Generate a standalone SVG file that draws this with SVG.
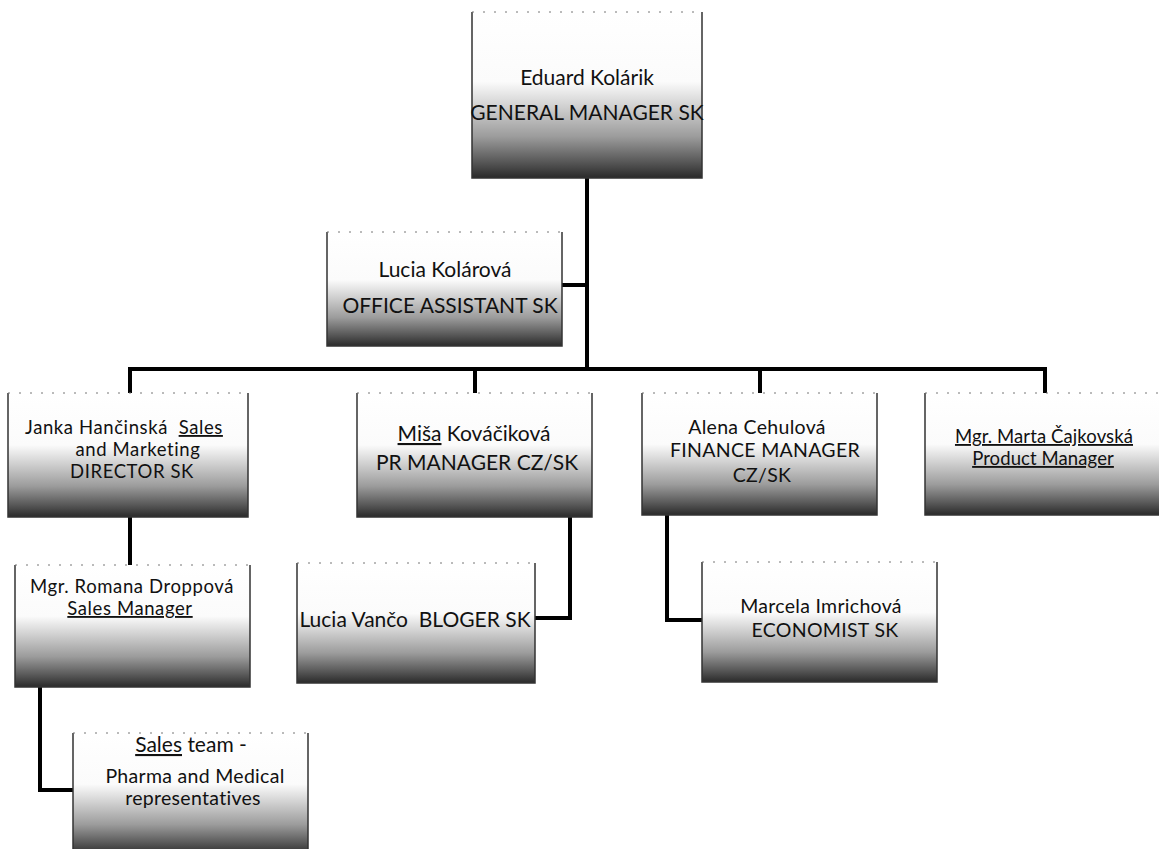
<svg xmlns="http://www.w3.org/2000/svg" width="1159" height="849" viewBox="0 0 1159 849">
<style>
.box{fill:url(#g);stroke:none}
.e{fill:none;stroke:#333;stroke-width:1.5}
.tp{fill:none;stroke:#777;stroke-width:1;stroke-dasharray:2 9}
.t{font-family:Lato,"Open Sans","DejaVu Sans",sans-serif;font-size:21px;fill:#111;text-anchor:middle}
.s{font-size:18.5px;letter-spacing:0.6px}
.m{font-size:18.5px;letter-spacing:0.1px}
.n{font-size:19.5px;letter-spacing:0.3px}
.u{text-decoration:underline}
.c{fill:none;stroke:#000;stroke-width:4;stroke-linejoin:miter;stroke-linecap:square}
</style>
<defs>
<linearGradient id="g" x1="0" y1="0" x2="0" y2="1">
<stop offset="0" stop-color="#ffffff"/>
<stop offset="0.42" stop-color="#fbfbfb"/>
<stop offset="0.55" stop-color="#d6d6d6"/>
<stop offset="0.75" stop-color="#9c9c9c"/>
<stop offset="0.9" stop-color="#595959"/>
<stop offset="1" stop-color="#2a2a2a"/>
</linearGradient>
</defs>
<rect width="1159" height="849" fill="#fff"/>
<g id="connectors">
<path class="c" d="M587 178 V369"/>
<path class="c" d="M562 285 H587"/>
<path class="c" d="M130 369 H1045"/>
<path class="c" d="M130 369 V393"/>
<path class="c" d="M475 369 V393"/>
<path class="c" d="M760 369 V393"/>
<path class="c" d="M1045 369 V393"/>
<path class="c" d="M130 517 V565"/>
<path class="c" d="M40 687 V790 H73"/>
<path class="c" d="M570 517 V618 H535"/>
<path class="c" d="M667 515 V620 H702"/>
</g>
<g id="eduard">
<rect class="box" x="472" y="12" width="230" height="166"/>
<path class="e" d="M472 12 V178 H702 V12"/><path class="tp" d="M472 12 H702"/>
<text class="t" x="587" y="85">Eduard Kolárik</text>
<text class="t" x="587" y="120">GENERAL MANAGER SK</text>
</g>
<g id="lucia-kolarova">
<rect class="box" x="327" y="232" width="235" height="114"/>
<path class="e" d="M327 232 V346 H562 V232"/><path class="tp" d="M327 232 H562"/>
<text class="t" x="445" y="277">Lucia Kolárová</text>
<text class="t" x="450" y="313">OFFICE ASSISTANT SK</text>
</g>
<g id="janka">
<rect class="box" x="8" y="393" width="240" height="124"/>
<path class="e" d="M8 393 V517 H248 V393"/><path class="tp" d="M8 393 H248"/>
<text class="t s" x="124" y="434">Janka Hančinská&#160; <tspan class="u">Sales</tspan></text>
<text class="t s" x="138" y="456">and Marketing</text>
<text class="t s" x="132" y="478">DIRECTOR SK</text>
</g>
<g id="misa">
<rect class="box" x="357" y="393" width="235" height="124"/>
<path class="e" d="M357 393 V517 H592 V393"/><path class="tp" d="M357 393 H592"/>
<text class="t" x="474" y="441"><tspan class="u">Miša</tspan> Kováčiková</text>
<text class="t" x="477" y="470">PR MANAGER CZ/SK</text>
</g>
<g id="alena">
<rect class="box" x="642" y="393" width="235" height="122"/>
<path class="e" d="M642 393 V515 H877 V393"/><path class="tp" d="M642 393 H877"/>
<text class="t n" x="757" y="434">Alena Cehulová</text>
<text class="t n" x="765" y="457">FINANCE MANAGER</text>
<text class="t n" x="762" y="482">CZ/SK</text>
</g>
<g id="marta">
<rect class="box" x="925" y="393" width="240" height="122"/>
<path class="e" d="M925 393 V515 H1165"/><path class="tp" d="M925 393 H1159"/>
<text class="t m u" x="1044" y="443">Mgr. Marta Čajkovská</text>
<text class="t m u" x="1043" y="465">Product Manager</text>
</g>
<g id="romana">
<rect class="box" x="15" y="565" width="235" height="122"/>
<path class="e" d="M15 565 V687 H250 V565"/><path class="tp" d="M15 565 H250"/>
<text class="t s" x="132" y="593">Mgr. Romana Droppová</text>
<text class="t s u" x="130" y="615">Sales Manager</text>
</g>
<g id="lucia-vanco">
<rect class="box" x="297" y="563" width="238" height="120"/>
<path class="e" d="M297 563 V683 H535 V563"/><path class="tp" d="M297 563 H535"/>
<text class="t" x="415" y="627">Lucia Vančo&#160; BLOGER SK</text>
</g>
<g id="marcela">
<rect class="box" x="702" y="562" width="235" height="120"/>
<path class="e" d="M702 562 V682 H937 V562"/><path class="tp" d="M702 562 H937"/>
<text class="t n" x="821" y="613">Marcela Imrichová</text>
<text class="t n" x="825" y="637">ECONOMIST SK</text>
</g>
<g id="sales-team">
<rect class="box" x="73" y="733" width="235" height="122"/>
<path class="e" d="M73 733 V855 M308 855 V733"/><path class="tp" d="M73 733 H308"/>
<text class="t" x="191" y="752"><tspan class="u">Sales</tspan> team -</text>
<text class="t n" x="195" y="783">Pharma and Medical</text>
<text class="t n" x="193" y="805">representatives</text>
</g>
</svg>
